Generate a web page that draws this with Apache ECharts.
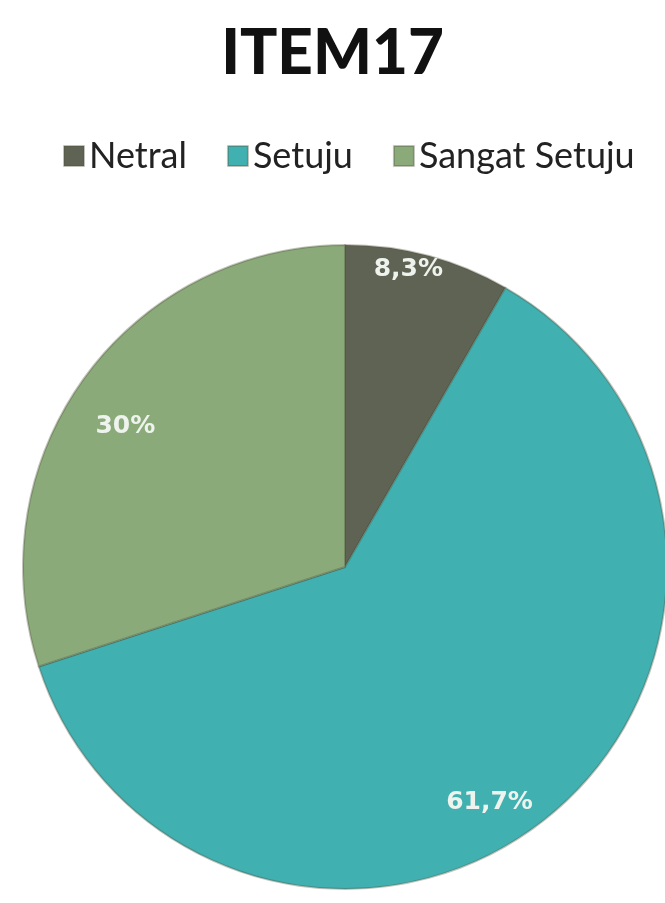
<!DOCTYPE html>
<html>
<head>
<meta charset="UTF-8">
<title>ITEM17</title>
<script src="https://cdn.jsdelivr.net/npm/echarts@6/dist/echarts.min.js"></script>
<style>
  html, body { margin: 0; padding: 0; background: #fff; }
  #chart { width: 665px; height: 903px; }
</style>
</head>
<body>
<div id="chart"></div>
<script type="text/javascript">
  // data
  var categories = ['Netral', 'Setuju', 'Sangat Setuju'];
  var values = [8.3, 61.7, 30];
  var labels = ['8,3%', '61,7%', '30%'];
  var colors = ['#5f6353', '#40b0b1', '#8aaa79'];

  var chart = echarts.init(document.getElementById('chart'));

  var pieData = categories.map(function (name, i) {
    return { name: name, value: values[i], itemStyle: { color: colors[i] } };
  });

  // label offsets so the texts sit where the original has them
  var labelOffsets = [[-6, -38], [-25, 27], [-2, 18]];
  var labelData = categories.map(function (name, i) {
    return {
      name: name,
      value: values[i],
      label: { formatter: labels[i], offset: labelOffsets[i] }
    };
  });

  chart.setOption({
    animation: false,
    color: colors,
    title: {
      text: 'ITEM17',
      left: 'center',
      top: 18,
      textStyle: {
        fontFamily: 'Lato',
        fontWeight: 900,
        fontSize: 62,
        color: '#111'
      }
    },
    legend: {
      data: categories,
      top: 133,
      left: 58,
      icon: 'rect',
      itemWidth: 20,
      itemHeight: 20,
      itemGap: 40,
      textStyle: { fontFamily: 'Lato', fontSize: 36, color: '#222' }
    },
    series: [
      {
        type: 'pie',
        center: [345, 567],
        radius: 322,
        startAngle: 90,
        clockwise: true,
        label: { show: false },
        labelLine: { show: false },
        emphasis: { disabled: true },
        itemStyle: { borderColor: 'rgba(80,80,60,0.35)', borderWidth: 2 },
        data: pieData
      },
      {
        type: 'pie',
        center: [345, 567],
        radius: [210, 322],
        startAngle: 90,
        clockwise: true,
        silent: true,
        itemStyle: { color: 'transparent' },
        label: {
          show: true,
          position: 'inside',
          color: '#eef3ee',
          fontFamily: 'DejaVu Sans',
          fontWeight: 'bold',
          fontSize: 25
        },
        labelLine: { show: false },
        data: labelData
      }
    ]
  });
</script>
</body>
</html>
